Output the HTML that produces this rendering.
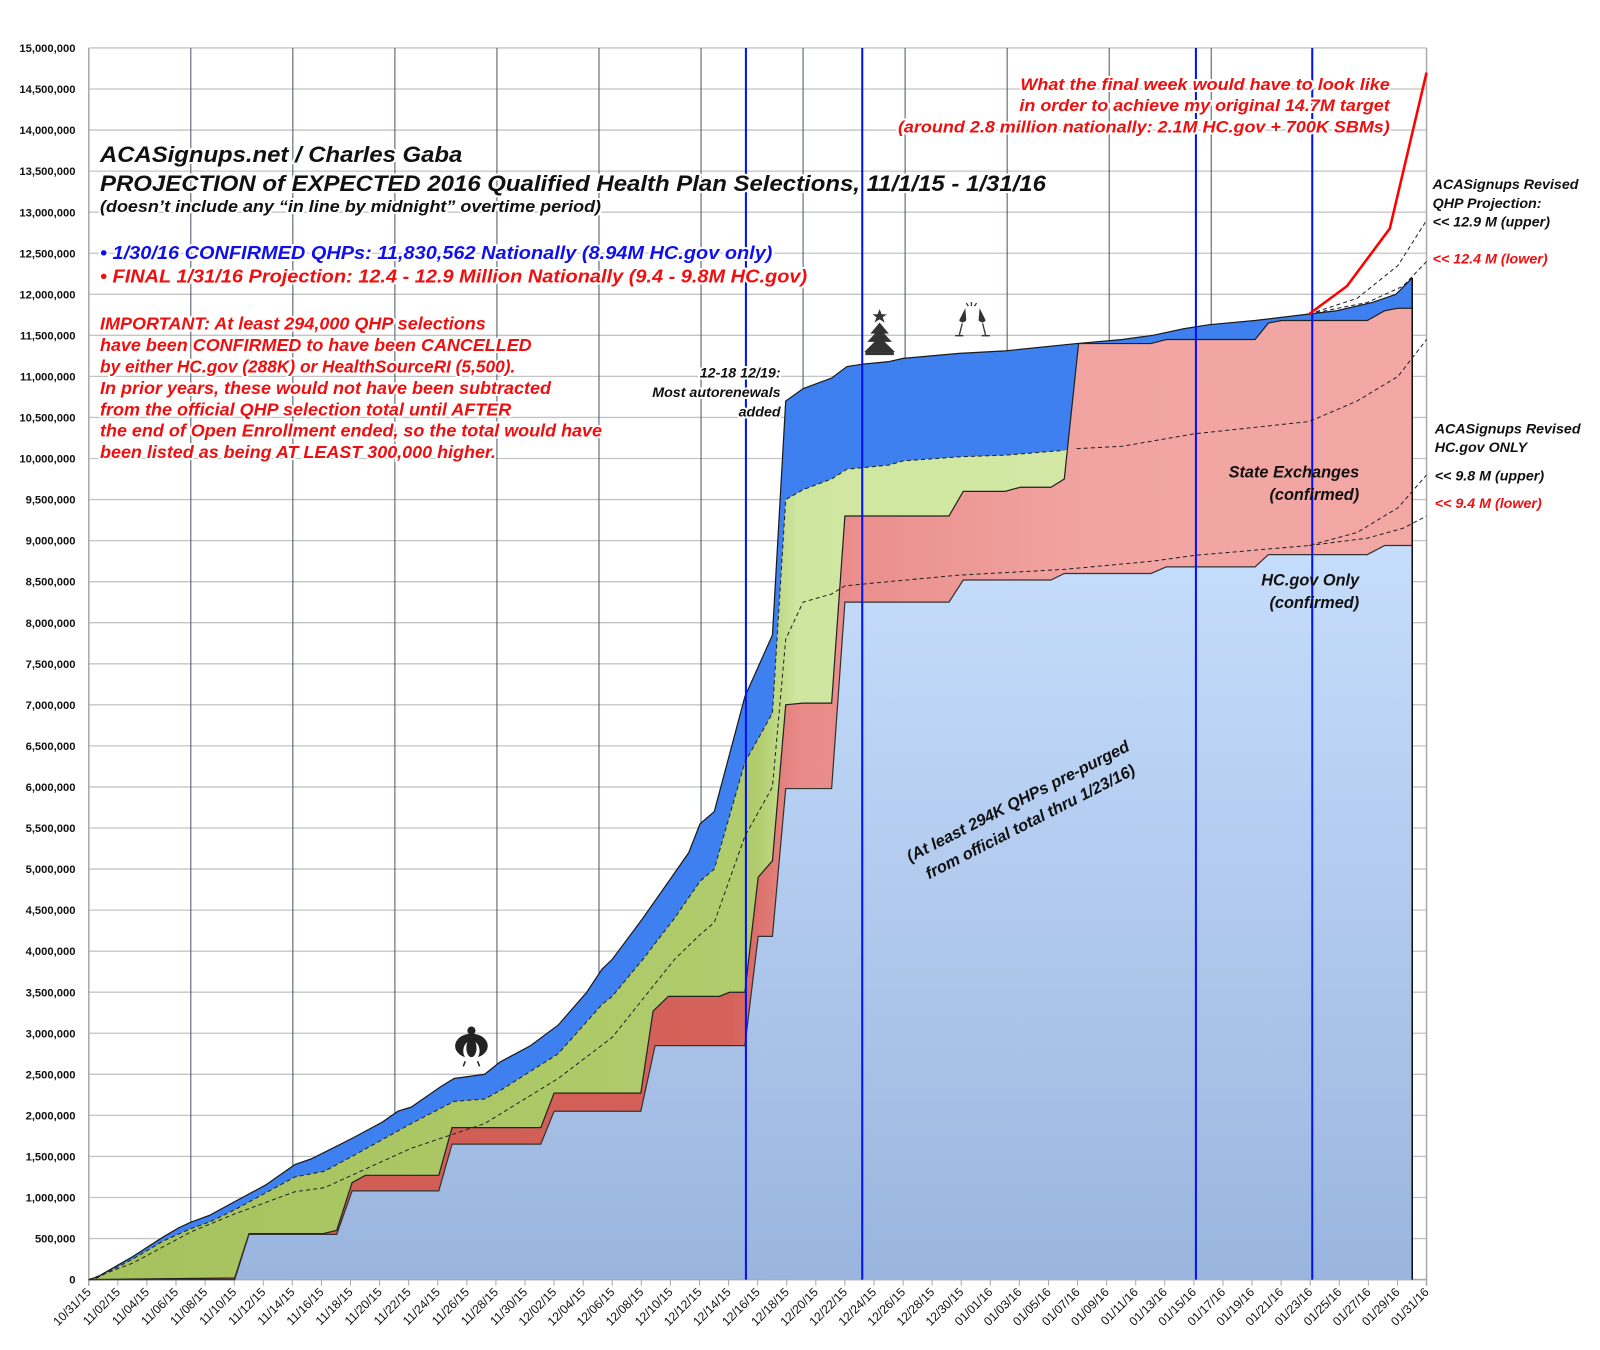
<!DOCTYPE html>
<html><head><meta charset="utf-8"><style>
html,body{margin:0;padding:0;background:#fff;}
svg{display:block;}
text{font-family:"Liberation Sans",sans-serif;font-weight:bold;font-style:italic;}
.h{paint-order:stroke;stroke:#fff;stroke-width:4px;stroke-linejoin:round;}
.ax{font-style:normal;font-size:11px;fill:#111;}
.axx{font-style:normal;font-weight:normal;font-size:12px;fill:#111;}
</style></head><body>
<svg id="c" width="1600" height="1350" viewBox="0 0 1568 1323" preserveAspectRatio="none" xmlns="http://www.w3.org/2000/svg">
<defs>
<linearGradient id="gb" x1="0" y1="0" x2="0" y2="1"><stop offset="0" stop-color="#c6ddfc"/><stop offset="1" stop-color="#9ab5de"/></linearGradient>
<linearGradient id="gr" x1="87" y1="0" x2="1398" y2="0" gradientUnits="userSpaceOnUse"><stop offset="0" stop-color="#cf5a50"/><stop offset="0.48" stop-color="#d4625a"/><stop offset="0.53" stop-color="#e88a88"/><stop offset="0.75" stop-color="#f1a4a1"/><stop offset="1" stop-color="#f3a8a5"/></linearGradient>
<linearGradient id="gg" x1="87" y1="0" x2="1398" y2="0" gradientUnits="userSpaceOnUse"><stop offset="0" stop-color="#a5c25d"/><stop offset="0.5" stop-color="#b0cc6c"/><stop offset="0.53" stop-color="#cfe6a0"/><stop offset="1" stop-color="#d6ecaa"/></linearGradient>
</defs>
<g id="grid"></g>
<g id="layers"></g>
<g id="over"></g>
</svg>
<script>
(function(){
var NS="http://www.w3.org/2000/svg";
var X0=87,X1=1398,Y0=1254,PX=1207/15;
function Y(v){return Y0-v*PX;}
function el(parent,tag,attrs,txt){var e=document.createElementNS(NS,tag);for(var k in attrs)e.setAttribute(k,attrs[k]);if(txt!==undefined)e.textContent=txt;document.getElementById(parent).appendChild(e);return e;}
function pts(a){return a.map(function(p){return p[0]+","+Y(p[1]).toFixed(1);}).join(" ");}
function fmt(n){return String(n).replace(/\B(?=(\d{3})+(?!\d))/g,",");}
for(var i=0;i<=30;i++){var y=Y(i*0.5);el("grid","line",{x1:X0,x2:X1,y1:y,y2:y,stroke:"#c4c4c4","stroke-width":1.3});
 el("grid","text",{x:74,y:y+4,"text-anchor":"end",class:"ax"},i==0?"0":fmt(i*500000));}
[187,287,387,487,587,687,787,887,987,1087,1187].forEach(function(x){el("grid","line",{x1:x,x2:x,y1:47,y2:Y0,stroke:"#4a5568","stroke-width":1});});
el("grid","line",{x1:X0,x2:X0,y1:47,y2:Y0+6,stroke:"#aaa","stroke-width":1.5});
el("grid","line",{x1:X1,x2:X1,y1:47,y2:Y0+6,stroke:"#aaa","stroke-width":1.5});
el("grid","line",{x1:X0,x2:X1,y1:Y0,y2:Y0,stroke:"#aaa","stroke-width":1.5});
var dates=[];
var mdays=[31,30,31,31];var months=[10,11,12,1];var yrs=["15","15","15","16"];
var seq=[];for(var m=0;m<4;m++){var start=(m==0)?31:1;for(var d=start;d<=mdays[m];d++)seq.push(String(months[m]).padStart(2,"0")+"/"+String(d).padStart(2,"0")+"/"+yrs[m]);}
for(var j=0;j<seq.length;j+=2)dates.push(seq[j]);
dates.forEach(function(t,i){var x=X0+i*2*14.25;el("grid","line",{x1:x,x2:x,y1:Y0,y2:Y0+6,stroke:"#aaa"});
 el("grid","text",{x:x+3,y:Y0+13,"text-anchor":"end",class:"axx",transform:"rotate(-45 "+(x+3)+" "+(Y0+13)+")"},t);});

var topL=[[87,0],[95,0.03],[130,0.28],[160,0.52],[175,0.63],[187,0.7],[205,0.78],[230,0.95],[260,1.15],[289,1.4],[305,1.47],[318,1.55],[345,1.72],[375,1.92],[390,2.05],[403,2.1],[432,2.35],[445,2.45],[475,2.5],[490,2.65],[520,2.85],[547,3.1],[575,3.5],[590,3.78],[600,3.9],[630,4.4],[661,4.95],[675,5.2],[686,5.55],[700,5.7],[730,7.1],[757,7.85],[770,10.7],[787,10.85],[815,10.98],[830,11.12],[846,11.15],[871,11.18],[885,11.22],[940,11.28],[985,11.31],[1055,11.4],[1100,11.45],[1130,11.5],[1160,11.58],[1185,11.63],[1230,11.68],[1283,11.76],[1310,11.8],[1345,11.9],[1368,12.0],[1384,12.2]];
var green=[[87,0],[95,0.02],[130,0.25],[160,0.47],[187,0.62],[205,0.7],[230,0.85],[289,1.25],[318,1.32],[345,1.5],[403,1.9],[445,2.17],[475,2.2],[490,2.3],[547,2.75],[590,3.35],[600,3.45],[630,3.9],[661,4.4],[686,4.85],[700,5.0],[730,6.3],[757,6.9],[770,9.5],[787,9.62],[815,9.75],[830,9.87],[871,9.92],[885,9.97],[940,10.02],[985,10.04],[1043,10.1],[1055,10.12],[1100,10.15],[1384,10.3]];
var red=[[87,0],[230,0.02],[244,0.56],[317,0.56],[330,0.6],[345,1.18],[358,1.27],[430,1.27],[443,1.85],[530,1.85],[543,2.27],[628,2.27],[640,3.27],[655,3.45],[705,3.45],[715,3.5],[730,3.5],[743,4.9],[757,5.1],[770,7.0],[787,7.02],[815,7.02],[828,9.3],[930,9.3],[944,9.6],[985,9.6],[1000,9.65],[1030,9.65],[1043,9.75],[1057,11.4],[1128,11.4],[1143,11.45],[1230,11.45],[1243,11.65],[1256,11.68],[1340,11.68],[1357,11.8],[1370,11.83],[1384,11.83]];
var hc=[[87,0],[230,0],[244,0.55],[330,0.55],[345,1.08],[430,1.08],[443,1.65],[530,1.65],[543,2.05],[628,2.05],[642,2.85],[730,2.85],[743,4.18],[757,4.18],[770,5.98],[815,5.98],[828,8.25],[930,8.25],[944,8.52],[1030,8.52],[1043,8.6],[1128,8.6],[1143,8.68],[1230,8.68],[1243,8.83],[1340,8.83],[1357,8.94],[1384,8.94]];
function area(a,fill,stroke){el("layers","polygon",{points:pts(a)+" 1384,"+Y0+" 87,"+Y0,fill:fill,stroke:"none"});
 if(stroke)el("layers","polyline",{points:pts(a),fill:"none",stroke:stroke,"stroke-width":1.2});}
area(topL,"#3f80f0","#1a1a1a");
area(green,"url(#gg)",null);
el("layers","polyline",{points:pts(green.slice(0,32)),fill:"none",stroke:"#222","stroke-width":1,"stroke-dasharray":"4,3"});
area(red,"url(#gr)","#222");
area(hc,"url(#gb)","#333");
el("layers","line",{x1:1384,x2:1384,y1:Y(12.2),y2:Y0,stroke:"#111","stroke-width":1.5});
[731,845,1172,1286].forEach(function(x){el("layers","line",{x1:x,x2:x,y1:47,y2:Y0,stroke:"#0010ff","stroke-width":2});});
function dash(a){el("layers","polyline",{points:pts(a),fill:"none",stroke:"#222","stroke-width":1,"stroke-dasharray":"4,3"});}
dash([[1055,10.12],[1100,10.15],[1170,10.3],[1283,10.45],[1330,10.7],[1370,11.0],[1398,11.45]]);
dash([[87,0],[130,0.2],[187,0.58],[230,0.8],[289,1.07],[318,1.12],[403,1.6],[475,1.9],[547,2.45],[600,2.95],[661,3.9],[686,4.2],[700,4.35],[730,5.4],[757,6.0],[770,7.8],[787,8.25],[815,8.35],[828,8.45],[871,8.5],[940,8.58],[1043,8.65],[1130,8.75],[1170,8.82],[1283,8.94],[1330,9.1],[1370,9.4],[1398,9.8]]);
dash([[1283,8.94],[1340,9.03],[1375,9.15],[1398,9.3]]);
dash([[1283,11.76],[1330,11.95],[1370,12.35],[1398,12.9]]);
dash([[1283,11.76],[1340,11.9],[1375,12.1],[1398,12.4]]);
el("layers","polyline",{points:pts([[1283,11.76],[1320,12.1],[1362,12.8],[1398,14.7]]),fill:"none",stroke:"#ff0000","stroke-width":2.5});
function T(x,y,s,size,fill,opts){opts=opts||{};var a={x:x,y:y,"font-size":size,fill:fill,class:"h"};if(opts.anchor)a["text-anchor"]=opts.anchor;if(opts.w){a.textLength=opts.w;a.lengthAdjust="spacingAndGlyphs";}return el("over","text",a,s);}
T(98,159,"ACASignups.net / Charles Gaba",22,"#111",{w:355});
T(98,187,"PROJECTION of EXPECTED 2016 Qualified Health Plan Selections, 11/1/15 - 1/31/16",22,"#111",{w:927});
T(98,208,"(doesn\u2019t include any \u201cin line by midnight\u201d overtime period)",16,"#111",{w:491});
T(98,254,"\u2022 1/30/16 CONFIRMED QHPs: 11,830,562 Nationally (8.94M HC.gov only)",18,"#1010ee",{w:659});
T(98,277,"\u2022 FINAL 1/31/16 Projection: 12.4 - 12.9 Million Nationally (9.4 - 9.8M HC.gov)",18,"#ee1010",{w:693});
var imp=[["IMPORTANT: At least 294,000 QHP selections",378],["have been CONFIRMED to have been CANCELLED",423],["by either HC.gov (288K) or HealthSourceRI (5,500).",407],["In prior years, these would not have been subtracted",442],["from the official QHP selection total until AFTER",403],["the end of Open Enrollment ended, so the total would have",492],["been listed as being AT LEAST 300,000 higher.",388]];
imp.forEach(function(l,i){T(98,323+i*21,l[0],17,"#ee1010",{w:l[1]});});
T(1362,88,"What the final week would have to look like",16,"#ee1010",{anchor:"end",w:362});
T(1362,109,"in order to achieve my original 14.7M target",16,"#ee1010",{anchor:"end",w:363});
T(1362,130,"(around 2.8 million nationally: 2.1M HC.gov + 700K SBMs)",16,"#ee1010",{anchor:"end",w:482});
T(765,370,"12-18 12/19:",14,"#111",{anchor:"end"});
T(765,389,"Most autorenewals",14,"#111",{anchor:"end"});
T(765,408,"added",14,"#111",{anchor:"end"});
T(1404,185,"ACASignups Revised",14,"#111");
T(1404,204,"QHP Projection:",14,"#111");
T(1404,222,"<< 12.9 M (upper)",14,"#111");
T(1404,258,"<< 12.4 M (lower)",14,"#ee1010");
T(1406,425,"ACASignups Revised",14,"#111");
T(1406,443,"HC.gov ONLY",14,"#111");
T(1406,471,"<< 9.8 M (upper)",14,"#111");
T(1406,498,"<< 9.4 M (lower)",14,"#ee1010");
[["State Exchanges",1332,468],["(confirmed)",1332,490],["HC.gov Only",1332,574],["(confirmed)",1332,596]].forEach(function(a){el("over","text",{x:a[1],y:a[2],"text-anchor":"end","font-size":16,fill:"#111"},a[0]);});
el("over","text",{x:1000,y:790,"text-anchor":"middle","font-size":16,fill:"#111",transform:"rotate(-27 1000 790)"},"(At least 294K QHPs pre-purged");
el("over","text",{x:1012,y:810,"text-anchor":"middle","font-size":16,fill:"#111",transform:"rotate(-27 1012 810)"},"from official total thru 1/23/16)");
el("over","polygon",{points:"862,303 864,308 869,308 865,311 867,316 862,313 857,316 859,311 855,308 860,308",fill:"#333"});
el("over","polygon",{points:"862,316 853,327 871,327",fill:"#333"});
el("over","polygon",{points:"862,322 850,335 874,335",fill:"#333"});
el("over","polygon",{points:"862,330 847,345 877,345",fill:"#333"});
el("over","rect",{x:848,y:345,width:28,height:3,fill:"#333"});
el("over","path",{d:"M946,302 l-6,12 q3,4 7,0 l-1,-12z M960,302 l6,12 q-3,4 -7,0 l1,-12z",fill:"#333"});
el("over","path",{d:"M943,317 l-3,12 M963,317 l3,12 M936,329 h8 M962,329 h8 M952,296 l0,4 M947,297 l2,3 M957,297 l-2,3",stroke:"#333","stroke-width":1.3,fill:"none"});
el("over","ellipse",{cx:462,cy:1025,rx:16,ry:12,fill:"#222"});
el("over","ellipse",{cx:462,cy:1030,rx:8,ry:10,fill:"#fff"});
el("over","ellipse",{cx:462,cy:1027,rx:5,ry:9,fill:"#222"});
el("over","circle",{cx:462,cy:1010,r:4,fill:"#222"});
el("over","path",{d:"M456,1040 l-2,5 M468,1040 l2,5",stroke:"#222","stroke-width":1.5});
})();
</script>
</body></html>
